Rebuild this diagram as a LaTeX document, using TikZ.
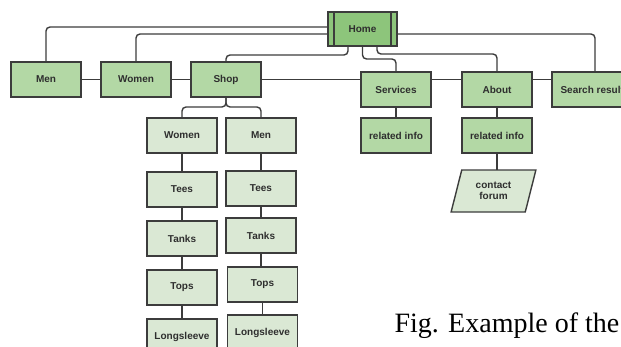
\documentclass[tikz,border=0pt]{standalone}
\usepackage{fontspec}
\setmainfont{Liberation Sans}
\newfontfamily\capfont{Liberation Serif}
\usetikzlibrary{positioning,shapes.geometric}
\definecolor{sitegreen}{HTML}{B3D8A5}
\definecolor{sitehome}{HTML}{8DC57B}
\definecolor{sitelight}{HTML}{DAE8D4}
\definecolor{siteline}{HTML}{3C3C3C}
\definecolor{sitetext}{HTML}{2E2E2E}

\begin{document}
\begin{tikzpicture}[
  box/.style={draw=siteline,line width=1.4pt,fill=sitegreen,minimum width=70pt,minimum height=35pt,
    inner sep=2pt,outer sep=0pt,font=\fontsize{10}{10.7}\selectfont\bfseries,text=sitetext,align=center},
  sub/.style={box,fill=sitelight},
  link/.style={draw=siteline,line width=1.4pt,rounded corners=4pt},
  node distance=14pt]
\useasboundingbox (0,0) rectangle (621pt,-346pt);
\clip (0,0) rectangle (621pt,-346pt);
% top level
\node[box,fill=sitehome,minimum width=69pt,minimum height=34pt] (home) at (362.5pt,-29pt) {Home};
\node[box] (men) at (46pt,-79.5pt) {Men};
\node[box,right=20pt of men] (women) {Women};
\node[box,right=20pt of women] (shop) {Shop};
\node[box,right=100pt of shop,yshift=-10pt] (services) {Services};
\node[box,right=31pt of services] (about) {About};
\node[box,right=20pt of about,minimum width=86pt] (search) {Search results};
\node[box,below=11pt of services] (srvinfo) {related info};
\node[box,below=11pt of about] (abtinfo) {related info};
\node[sub,shape=trapezium,trapezium left angle=72,trapezium right angle=108,trapezium stretches=true,
  minimum width=85pt,minimum height=42pt,inner sep=1pt,below=17pt of abtinfo,xshift=-3.5pt] (forum) {contact\\forum};
% shop columns
\node[sub,below=21pt of shop,xshift=-44pt] (wcol) {Women};
\node[sub,below=19pt of wcol] (wtees) {Tees};
\node[sub,below=14pt of wtees] (wtanks) {Tanks};
\node[sub,below=14pt of wtanks] (wtops) {Tops};
\node[sub,below=14pt of wtops] (wlong) {Longsleeve};
\node[sub,right=9pt of wcol] (mcol) {Men};
\node[sub,below=18pt of mcol] (mtees) {Tees};
\node[sub,below=12pt of mtees] (mtanks) {Tanks};
\node[sub,below=14pt of mtanks,xshift=1.5pt] (mtops) {Tops};
\node[sub,below=13pt of mtops] (mlong) {Longsleeve};
\draw[siteline,line width=1.4pt] ([xshift=6pt]home.north west) -- ([xshift=6pt]home.south west)
  ([xshift=-6pt]home.north east) -- ([xshift=-6pt]home.south east);
% links to home
\draw[link] (men.north) |- ([yshift=2pt]home.west);
\draw[link] (women.north) |- ([yshift=-5pt]home.west);
\draw[link] (shop.north) -- ++(0,7pt) -| ([xshift=-14.5pt]home.south);
\draw[link] (home.south) -- ++(0,-13pt) -| (services.north);
\draw[link] ([xshift=14.5pt]home.south) -- ++(0,-8pt) -| (about.north);
\draw[link] ([yshift=-5pt]home.east) -| (search.north);
% row
\draw[link] (men) -- (women);
\draw[link] (women) -- (shop);
\draw[link] (shop.east) -- (shop.east -| services.west);
\draw[link] (services.east |- shop.east) -- (about.west |- shop.east);
\draw[link] (about.east |- shop.east) -- (search.west |- shop.east);
\draw[link] (services) -- (srvinfo);
\draw[link] (about) -- (abtinfo);
\draw[link] (abtinfo.south) -- (abtinfo.south |- forum.north);
% shop branches
\draw[link] (shop.south) -- ++(0,-10pt) -| (wcol.north);
\draw[link] (shop.south) -- ++(0,-10pt) -| (mcol.north);
\draw[link] (wcol) -- (wtees);
\draw[link] (wtees) -- (wtanks);
\draw[link] (wtanks) -- (wtops);
\draw[link] (wtops) -- (wlong);
\draw[link] (mcol) -- (mtees);
\draw[link] (mtees) -- (mtanks);
\draw[link] (mtanks.south) -- (mtanks.south |- mtops.north);
\draw[link] (mtops) -- (mlong);
\node[font=\capfont\fontsize{28}{30}\selectfont,anchor=base west] (caption) at (391pt,-332pt) {Fig. Example of the};
\end{tikzpicture}
\end{document}
